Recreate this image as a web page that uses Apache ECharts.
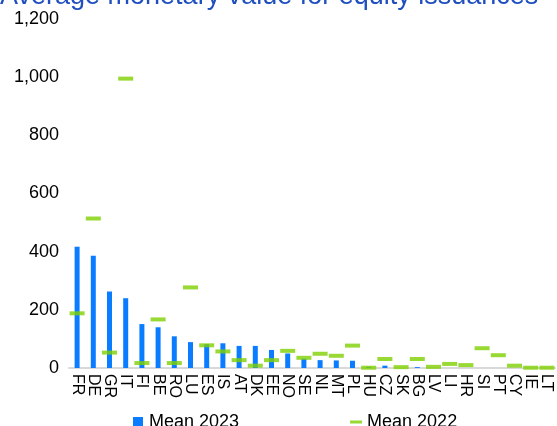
<!DOCTYPE html>
<html>
<head>
<meta charset="utf-8">
<script src="https://cdn.jsdelivr.net/npm/echarts@6/dist/echarts.min.js"></script>
<style>
  html, body { margin: 0; padding: 0; background: #fff; }
  #chart { width: 557px; height: 426px; }
</style>
</head>
<body>
<div id="chart"></div>
<script>
// Member-state codes along the category axis
const countries = ['FR','DE','GR','IT','FI','BE','RO','LU','ES','IS','AT','DK','EE','NO','SE','NL','MT','PL','HU','CZ','SK','BG','LV','LI','HR','SI','PT','CY','IE','LT'];
// Average monetary value per issuance, 2023 (bars)
const mean2023 = [417, 386, 263, 240, 151, 140, 109, 89, 82, 85, 76, 76, 62, 50, 32, 27, 26, 25, 4, 8, 0, 3, 0, 0, 0, 0, 0, 0, 0, 0];
// Average monetary value per issuance, 2022 (markers)
const mean2022 = [188, 514, 53, 995, 17, 167, 17, 277, 78, 57, 27, 8, 27, 59, 35, 49, 42, 77, 1, 31, 3, 31, 4, 14, 10, 68, 44, 8, 1, 1];
// Value axis settings
const yMin = 0, yMax = 1200, yStep = 200;

const FONT = '"Liberation Sans", Arial, sans-serif';
const BLUE = '#0a7cff';
const GREEN = '#7ed000';

const chart = echarts.init(document.getElementById('chart'), null, { renderer: 'canvas' });

chart.setOption({
  animation: false,
  backgroundColor: '#ffffff',
  title: {
    text: 'Average monetary value for equity issuances',
    left: -5,
    top: -22,
    textStyle: { color: '#1f4fbf', fontFamily: FONT, fontSize: 27, fontWeight: 'normal' }
  },
  legend: {
    left: 127,
    top: 408,
    itemWidth: 12,
    itemHeight: 10,
    itemGap: 111,
    textStyle: { color: '#000', fontFamily: FONT, fontSize: 18 },
    data: [
      { name: 'Mean 2023', icon: 'path://M0,0 M12,10 M1,0 L11,0 L11,10 L1,10 Z', itemStyle: { color: BLUE } },
      { name: 'Mean 2022', icon: 'path://M0,0 M12,10 M0,3.5 L12,3.5 L12,6.5 L0,6.5 Z', itemStyle: { color: GREEN } }
    ]
  },
  grid: { left: 69, right: 2, top: 19, bottom: 58, containLabel: false },
  xAxis: {
    type: 'category',
    data: countries,
    axisLine: { show: true, lineStyle: { color: '#d9d9d9', width: 2 } },
    axisTick: { show: false },
    axisLabel: {
      rotate: -90,
      interval: 0,
      margin: 6,
      color: '#000',
      fontFamily: FONT,
      fontSize: 16
    }
  },
  yAxis: {
    type: 'value',
    min: yMin,
    max: yMax,
    interval: yStep,
    axisLine: { show: false },
    axisTick: { show: false },
    splitLine: { show: false },
    axisLabel: {
      margin: 10,
      color: '#000',
      fontFamily: FONT,
      fontSize: 18,
      formatter: v => v.toLocaleString('en-US')
    }
  },
  series: [
    {
      name: 'Mean 2023',
      type: 'bar',
      data: mean2023,
      barWidth: 5,
      itemStyle: { color: BLUE },
      z: 2
    },
    {
      name: 'Mean 2022',
      type: 'scatter',
      data: mean2022,
      symbol: 'rect',
      symbolSize: [15, 4],
      itemStyle: { color: GREEN },
      z: 3
    }
  ]
});
</script>
</body>
</html>
